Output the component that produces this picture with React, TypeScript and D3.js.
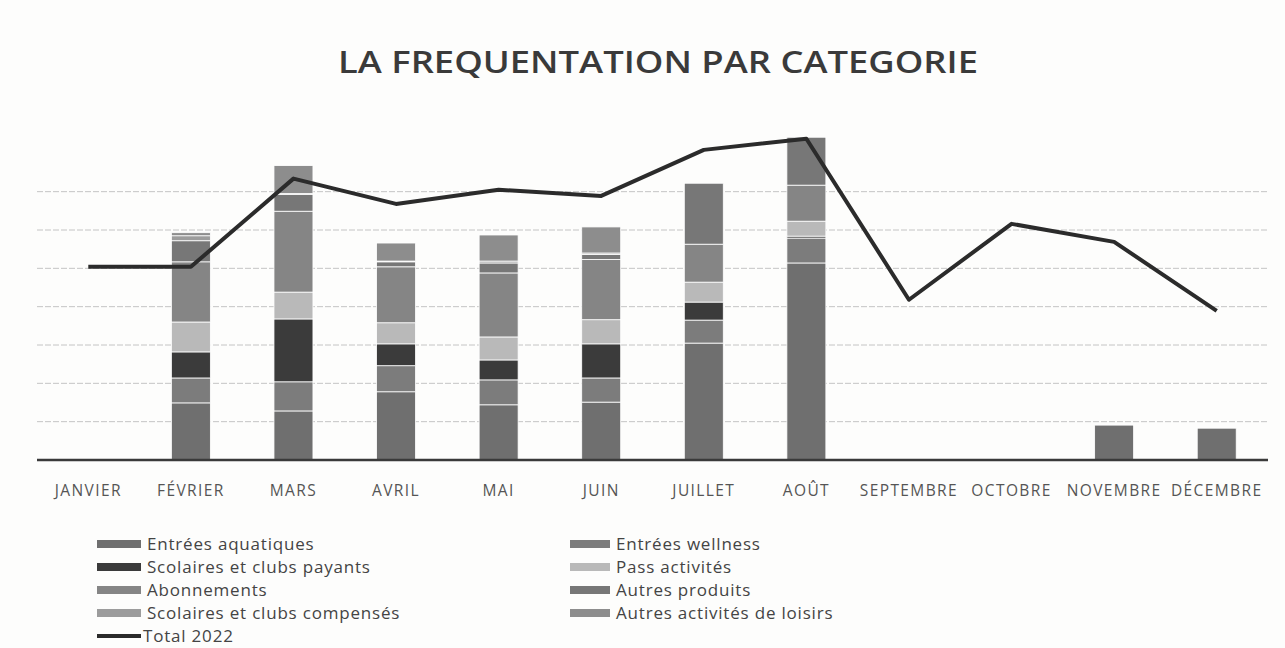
import React from "react";
import * as d3 from "d3";

const months = ["JANVIER", "FÉVRIER", "MARS", "AVRIL", "MAI", "JUIN", "JUILLET", "AOÛT", "SEPTEMBRE", "OCTOBRE", "NOVEMBRE", "DÉCEMBRE"];

const seriesNames = [
  "Entrées aquatiques",
  "Entrées wellness",
  "Scolaires et clubs payants",
  "Pass activités",
  "Abonnements",
  "Autres produits",
  "Scolaires et clubs compensés",
  "Autres activités de loisirs",
];

// values in thousands
const entreesAquatiques = [0, 1.49, 1.28, 1.78, 1.44, 1.51, 3.05, 5.14, 0, 0, 0.91, 0.83];
const entreesWellness = [0, 0.65, 0.76, 0.68, 0.65, 0.63, 0.6, 0.65, 0, 0, 0, 0];
const scolairesPayants = [0, 0.68, 1.64, 0.57, 0.52, 0.89, 0.47, 0.05, 0, 0, 0, 0];
const passActivites = [0, 0.78, 0.7, 0.55, 0.6, 0.63, 0.52, 0.39, 0, 0, 0, 0];
const abonnements = [0, 1.57, 2.11, 1.46, 1.67, 1.57, 0.99, 0.94, 0, 0, 0, 0];
const autresProduits = [0, 0.55, 0.44, 0.13, 0.26, 0.13, 1.59, 1.25, 0, 0, 0, 0];
const scolairesCompenses = [0, 0.13, 0.02, 0.02, 0.05, 0.04, 0, 0, 0, 0, 0, 0];
const autresLoisirs = [0, 0.08, 0.73, 0.47, 0.68, 0.68, 0, 0, 0, 0, 0, 0];

const total2022 = [5.04, 5.04, 7.34, 6.68, 7.05, 6.89, 8.09, 8.38, 4.18, 6.16, 5.69, 3.89];

const yTicks = [0, 1, 2, 3, 4, 5, 6, 7];

const colors = ["#6f6f6f", "#7c7c7c", "#3b3b3b", "#b9b9b9", "#858585", "#777777", "#9c9c9c", "#8d8d8d"];

export default function App() {
  const W = 1285;
  const H = 648;
  const left = 37;
  const right = 1268;
  const top = 115;
  const bottom = 460;

  const seriesData = [entreesAquatiques, entreesWellness, scolairesPayants, passActivites, abonnements, autresProduits, scolairesCompenses, autresLoisirs];
  const rows = months.map((m, i) => {
    const r: any = { month: m };
    seriesNames.forEach((s, k) => (r[s] = seriesData[k][i]));
    return r;
  });
  const stacked = d3.stack().keys(seriesNames)(rows);

  const x = d3.scaleBand().domain(months).range([left, right]).paddingInner(0.62).paddingOuter(0.31);
  const y = d3.scaleLinear().domain([0, 9]).range([bottom, top]);

  const line = d3
    .line<number>()
    .x((_, i) => (x(months[i]) as number) + x.bandwidth() / 2)
    .y((d) => y(d));

  const font = "'Open Sans', 'Noto Sans', sans-serif";

  const legendLeft = seriesNames.filter((_, i) => i % 2 === 0);
  const legendRight = seriesNames.filter((_, i) => i % 2 === 1);

  return (
    <svg width={W} height={H} style={{ position: "absolute", left: 0, top: 0, background: "#fdfdfc" }}>
      <rect x={0} y={0} width={W} height={H} fill="#fdfdfc" />
      <text x={658} y={73} textAnchor="middle" fontFamily={font} fontWeight={600} fontSize={30} fill="#3a3a3a" textLength={640} lengthAdjust="spacingAndGlyphs">
        LA FREQUENTATION PAR CATEGORIE
      </text>

      {yTicks.slice(1).map((t) => (
        <line key={t} x1={left} x2={right} y1={y(t)} y2={y(t)} stroke="#c4c4c4" strokeWidth={1} strokeDasharray="6 2" />
      ))}

      {stacked.map((layer, k) => (
        <g key={layer.key} fill={colors[k]}>
          {layer.map((d, i) =>
            d[1] - d[0] > 0 ? (
              <rect
                key={i}
                x={x(months[i])}
                y={y(d[1])}
                width={x.bandwidth()}
                height={y(d[0]) - y(d[1])}
                stroke="#ffffff"
                strokeWidth={0.8}
              />
            ) : null
          )}
        </g>
      ))}

      <line x1={left} x2={right} y1={bottom} y2={bottom} stroke="#3a3a3a" strokeWidth={2.5} />

      <path d={line(total2022) || ""} fill="none" stroke="#2b2b2b" strokeWidth={4} strokeLinejoin="round" />

      {months.map((m) => (
        <text key={m} x={(x(m) as number) + x.bandwidth() / 2} y={496} textAnchor="middle" fontFamily={font} fontSize={15.5} letterSpacing={1.4} fill="#555">
          {m}
        </text>
      ))}

      {legendLeft.map((s, i) => (
        <g key={s} transform={`translate(97, ${544 + i * 23})`}>
          <rect x={0} y={-4} width={44} height={8} fill={colors[seriesNames.indexOf(s)]} />
          <text x={50} y={6} fontFamily={font} fontSize={17} letterSpacing={0.8} fill="#444">
            {s}
          </text>
        </g>
      ))}
      <g transform={`translate(97, ${544 + 4 * 23})`}>
        <line x1={0} x2={44} y1={0} y2={0} stroke="#2b2b2b" strokeWidth={4} />
        <text x={46} y={6} fontFamily={font} fontSize={17} letterSpacing={0.8} fill="#444">
          Total 2022
        </text>
      </g>
      {legendRight.map((s, i) => (
        <g key={s} transform={`translate(570, ${544 + i * 23})`}>
          <rect x={0} y={-4} width={40} height={8} fill={colors[seriesNames.indexOf(s)]} />
          <text x={46} y={6} fontFamily={font} fontSize={17} letterSpacing={0.8} fill="#444">
            {s}
          </text>
        </g>
      ))}
    </svg>
  );
}
